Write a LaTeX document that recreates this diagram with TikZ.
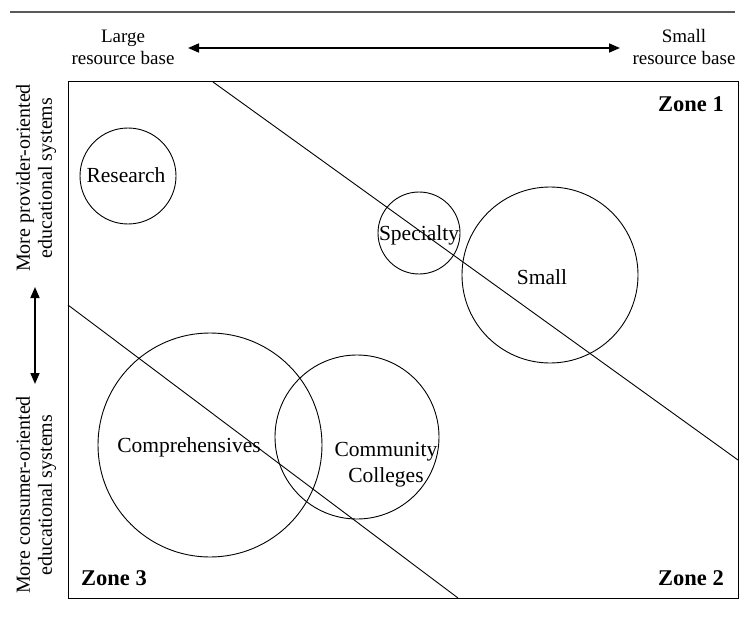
\documentclass[tikz,border=0pt]{standalone}
\usepackage{fontspec}
\setmainfont{Liberation Serif}
\usetikzlibrary{arrows.meta}
\begin{document}
\begin{tikzpicture}[x=1pt,y=-1pt,
  circ/.style={draw,circle,line width=0.9pt,inner sep=0pt},
  lbl/.style={font=\fontsize{21.5}{26}\selectfont,align=center},
  zone/.style={font=\fontsize{22.5}{26}\selectfont\bfseries},
  axlbl/.style={font=\fontsize{19}{22}\selectfont,align=center},
  sidelbl/.style={font=\fontsize{20}{22}\selectfont,align=center,rotate=90},
  dbl/.style={{Triangle[length=11pt,width=9pt]}-{Triangle[length=11pt,width=9pt]},line width=1.7pt},
  divline/.style={line width=0.9pt}]
\useasboundingbox (0,0) rectangle (739,623);
% top rule
\draw[gray!70!black,line width=1.6pt] (10,12) -- (735,12);
% frame
\draw[line width=1pt] (68,82) rectangle (738,598);
% axis labels
\node[axlbl] (large) at (123,47) {Large\\resource base};
\node[axlbl] (small) at (684,47) {Small\\resource base};
\coordinate (la) at (188,48);
\coordinate (sa) at (620,48);
\draw[dbl] (la) -- (sa);
\node[sidelbl] (prov) at (36,178) {More provider-oriented\\educational systems};
\node[sidelbl] (cons) at (36,495) {More consumer-oriented\\educational systems};
\coordinate (vt) at (35,287);
\coordinate (vb) at (35,384);
\draw[dbl] (vt) -- (vb);
% dividing lines
\coordinate (d1a) at (213,82);
\coordinate (d1b) at (738,460);
\coordinate (d2a) at (68,305);
\coordinate (d2b) at (458,598);
\draw[divline] (d1a) -- (d1b);
\draw[divline] (d2a) -- (d2b);
% circles
\node[circ,minimum size=96pt] (research) at (128,176) {};
\node[circ,minimum size=82pt] (specialty) at (419,233) {};
\node[circ,minimum size=176pt] (smallc) at (550,275) {};
\node[circ,minimum size=224pt] (comp) at (210,445) {};
\node[circ,minimum size=164pt] (cc) at (357,437) {};
% labels
\node[lbl] at (126,175) {Research};
\node[lbl] at (419,235) {Specialty};
\node[lbl] at (542,277) {Small};
\node[lbl] at (189,447) {Comprehensives};
\node[lbl] at (386,465) {Community\\Colleges};
\node[zone] at (691,104) {Zone 1};
\node[zone] at (691,578) {Zone 2};
\node[zone] at (114,578) {Zone 3};
\end{tikzpicture}
\end{document}
